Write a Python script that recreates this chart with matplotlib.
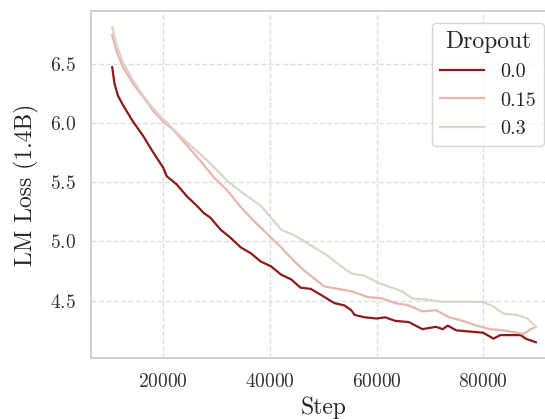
# LM loss vs step for different dropout rates

import numpy as np
import matplotlib.pyplot as plt

plt.rcParams['font.family'] = 'cmr10'
plt.rcParams['axes.formatter.use_mathtext'] = True
plt.rcParams['mathtext.fontset'] = 'cm'

# Data
step_00 = [10410, 10850, 11480, 12430, 14320, 16210, 18110, 20000, 20630, 22520,
           24420, 26310, 27570, 28830, 30720, 32620, 34510, 36400, 38300, 40190,
           42080, 43970, 45710, 47620, 49520, 52060, 53970, 55240, 55870, 57780,
           60000, 61590, 63490, 66030, 68570, 71110, 72380, 73330, 74920, 77460,
           79990, 81900, 83170, 85710, 86980, 87940, 89840]
loss_00 = [6.47, 6.33, 6.23, 6.15, 6.01, 5.89, 5.75, 5.62, 5.55, 5.48,
           5.38, 5.30, 5.24, 5.20, 5.10, 5.03, 4.95, 4.90, 4.83, 4.79,
           4.72, 4.68, 4.61, 4.60, 4.55, 4.48, 4.46, 4.42, 4.38, 4.36,
           4.35, 4.36, 4.33, 4.32, 4.26, 4.28, 4.26, 4.29, 4.25, 4.24,
           4.23, 4.18, 4.21, 4.21, 4.21, 4.18, 4.15]

step_15 = [10410, 11170, 12430, 14320, 16210, 18110, 20000, 21890, 24420, 26940,
           29460, 31990, 34510, 37030, 39560, 42080, 44610, 46500, 48250, 50160,
           52700, 55240, 58410, 60950, 63490, 66030, 68570, 71110, 73650, 76190,
           78730, 81270, 83810, 86350, 87620, 88890, 89840]
loss_15 = [6.74, 6.61, 6.47, 6.33, 6.22, 6.10, 6.01, 5.94, 5.81, 5.68,
           5.54, 5.43, 5.29, 5.17, 5.06, 4.95, 4.83, 4.75, 4.69, 4.62,
           4.60, 4.58, 4.53, 4.52, 4.48, 4.46, 4.41, 4.42, 4.36, 4.33,
           4.29, 4.26, 4.25, 4.23, 4.22, 4.26, 4.28]

step_30 = [10410, 11170, 12430, 14320, 16210, 18110, 20000, 22520, 25050, 27570,
           30090, 31990, 35140, 38300, 40190, 42080, 44610, 46500, 48250, 50790,
           53330, 55240, 57780, 60320, 62860, 64760, 66670, 69210, 72380, 74920,
           77460, 79990, 81900, 83810, 86350, 88250, 89840]
loss_30 = [6.81, 6.67, 6.51, 6.36, 6.23, 6.12, 6.03, 5.92, 5.81, 5.71,
           5.60, 5.51, 5.40, 5.30, 5.20, 5.10, 5.05, 5.00, 4.95, 4.88,
           4.79, 4.73, 4.71, 4.65, 4.61, 4.58, 4.52, 4.51, 4.49, 4.49,
           4.49, 4.49, 4.45, 4.39, 4.38, 4.35, 4.28]

labels = ['0.0', '0.15', '0.3']
colors = ['#8b1a1a', '#e8b4ac', '#d9d5c9']

W, H = 545, 419
fig = plt.figure(figsize=(W / 100, H / 100), dpi=100)
ax = fig.add_axes([91 / W, 61 / H, 466 / W, 347 / H])

for s, l, lab, c in zip([step_00, step_15, step_30], [loss_00, loss_15, loss_30], labels, colors):
    ax.plot(s, l, color=c, lw=1.6, label=lab)

ax.set_xticks([20000, 40000, 60000, 80000])
ax.set_yticks([4.5, 5.0, 5.5, 6.0, 6.5])
ax.grid(True, ls='--', color='#dddddd', lw=1.0)
ax.set_axisbelow(True)
for sp in ax.spines.values():
    sp.set_color('#cccccc')
    sp.set_linewidth(1.3)
ax.tick_params(length=0, pad=11, labelsize=14, colors='#333333')
ax.set_xlabel('Step', size=17, color='#262626', labelpad=4)
ax.set_ylabel('LM Loss (1.4B)', size=17, color='#262626', labelpad=8)

leg = ax.legend(title='Dropout', loc='upper left', bbox_to_anchor=(432 / W, 1 - 23 / H),
                bbox_transform=fig.transFigure, borderaxespad=0, fontsize=14.5,
                title_fontsize=17, frameon=True, handlelength=2.2)
leg.get_frame().set_edgecolor('#cccccc')
for t in leg.get_texts():
    t.set_color('#262626')
leg.get_title().set_color('#262626')

fig.savefig('out.png', dpi=100)
